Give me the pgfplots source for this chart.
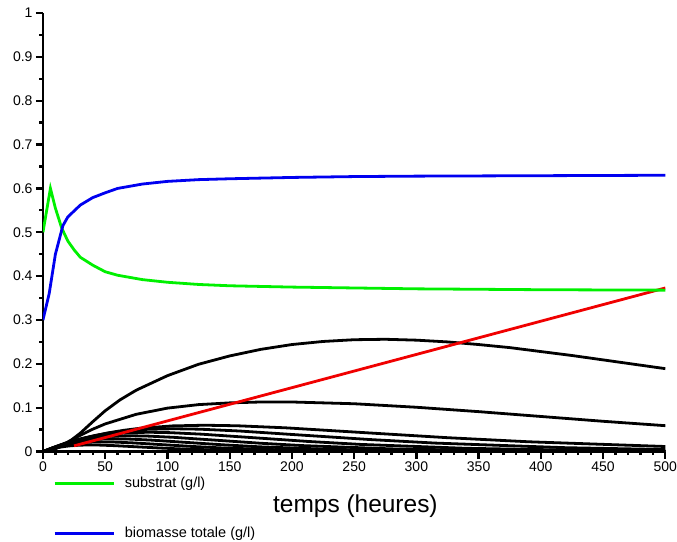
\documentclass[border=0pt]{standalone}
\usepackage{pgfplots}
\pgfplotsset{compat=1.18}
\usepackage{fontspec}
\setmainfont{Liberation Sans}
\definecolor{vert}{RGB}{0,240,0}
\definecolor{bleu}{RGB}{0,0,240}
\definecolor{rouge}{RGB}{240,0,0}
\newcommand{\tfont}{\fontsize{14bp}{16bp}\selectfont}
\begin{document}
\begin{tikzpicture}
\begin{axis}[
  scale only axis, width=623bp, height=439bp,
  xmin=0, xmax=500, ymin=0, ymax=1,
  axis lines=left,
  axis line style={-},
  every outer x axis line/.append style={line width=2.6bp, -},
  every outer y axis line/.append style={line width=2.6bp, -},
  every inner x axis line/.append style={line width=2.6bp, -},
  every inner y axis line/.append style={line width=2.6bp, -},
  tick align=outside,
  xtick={0,50,...,500}, ytick={0,0.1,...,1},
  minor x tick num=4, minor y tick num=1,
  major tick length=7bp, minor tick length=3.5bp,
  tick style={line width=2.3bp, black},
  xticklabel={\tfont\pgfmathprintnumber[assume math mode=true]{\tick}},
  yticklabel={\tfont\pgfmathprintnumber[assume math mode=true,fixed,precision=1]{\tick}},
  xticklabel style={inner xsep=0bp},
  xlabel={temps (heures)},
  xlabel style={font=\fontsize{24.5bp}{28bp}\selectfont, at={(axis description cs:0.502,-0.125)}, anchor=center},
  legend style={draw=none, fill=none, at={(axis description cs:0.016,-0.054)}, anchor=north west,
    font=\fontsize{14.5bp}{16bp}\selectfont, row sep=34bp, inner sep=0pt,
    /tikz/every odd column/.append style={column sep=7bp}},
  legend cell align=left,
  legend image code/.code={\draw[#1, line width=2.8bp] (0bp,0bp) -- (60bp,0bp);},
  every axis plot/.append style={line width=2.8bp},
]
\coordinate (bl) at (rel axis cs:0,0);
\coordinate (tr) at (rel axis cs:1,1);
% black curves (classes)
\addplot[black, forget plot] coordinates {(0,0)(10,0.006)(20,0.02)(30,0.042)(40,0.068)(50,0.093)(62,0.118)(75,0.14)(100,0.173)(125,0.199)(150,0.218)(175,0.233)(200,0.244)(225,0.251)(250,0.255)(275,0.256)(300,0.254)(325,0.25)(350,0.244)(375,0.237)(400,0.228)(425,0.219)(450,0.209)(475,0.199)(500,0.189)};
\addplot[black, forget plot] coordinates {(0,0)(10,0.008)(20,0.022)(30,0.037)(40,0.051)(50,0.063)(75,0.085)(100,0.099)(125,0.107)(150,0.111)(175,0.113)(200,0.113)(250,0.109)(300,0.101)(350,0.091)(400,0.08)(450,0.069)(500,0.059)};
\addplot[black, forget plot] coordinates {(0,0)(6.5,0.0063)(13,0.0128)(26,0.0247)(39,0.0345)(52,0.0424)(65,0.0485)(78,0.0531)(104,0.0585)(130,0.060)(156,0.0588)(195,0.0541)(260,0.0428)(325,0.0316)(390,0.0223)(500,0.0115)};
\addplot[black, forget plot] coordinates {(0,0)(5.25,0.0055)(10.5,0.0111)(21,0.0214)(31.5,0.0299)(42,0.0367)(52.5,0.0421)(63,0.046)(84,0.0507)(105,0.052)(126,0.051)(157.5,0.0469)(210,0.0371)(262.5,0.0274)(315,0.0193)(420,0.0088)(500,0.0046)};
\addplot[black, forget plot] coordinates {(0,0)(4.25,0.0046)(8.5,0.0094)(17,0.0181)(25.5,0.0253)(34,0.0311)(42.5,0.0356)(51,0.0389)(68,0.0429)(85,0.044)(102,0.0431)(127.5,0.0396)(170,0.0314)(212.5,0.0231)(255,0.0163)(340,0.0074)(425,0.0032)(500,0.0014)};
\addplot[black, forget plot] coordinates {(0,0)(3.5,0.0038)(7,0.0077)(14,0.0148)(21,0.0207)(28,0.0254)(35,0.0291)(42,0.0319)(56,0.0351)(70,0.036)(84,0.0353)(105,0.0324)(140,0.0257)(175,0.0189)(210,0.0134)(280,0.0061)(350,0.0026)(420,0.001)(500,0.0003)};
\addplot[black, forget plot] coordinates {(0,0)(2.9,0.003)(5.8,0.0062)(11.6,0.0119)(17.4,0.0167)(23.2,0.0205)(29,0.0235)(34.8,0.0257)(46.4,0.0283)(58,0.029)(69.6,0.0284)(87,0.0261)(116,0.0207)(145,0.0153)(174,0.0108)(232,0.0049)(290,0.0021)(348,0.0008)(464,0.0001)(500,0)};
\addplot[black, forget plot] coordinates {(0,0)(2.4,0.0023)(4.8,0.0047)(9.6,0.009)(14.4,0.0127)(19.2,0.0155)(24,0.0178)(28.8,0.0195)(38.4,0.0215)(48,0.022)(57.6,0.0216)(72,0.0198)(96,0.0157)(120,0.0116)(144,0.0082)(192,0.0037)(240,0.0016)(288,0.0006)(384,0.0001)(500,0)};
\addplot[black, forget plot] coordinates {(0,0)(1.9,0.0016)(3.8,0.0032)(7.6,0.0062)(11.4,0.0086)(15.2,0.0106)(19,0.0121)(22.8,0.0133)(30.4,0.0146)(38,0.015)(45.6,0.0147)(57,0.0135)(76,0.0107)(95,0.0079)(114,0.0056)(152,0.0025)(190,0.0011)(228,0.0004)(304,0.0001)(500,0)};
% red line
\addplot[rouge, forget plot] coordinates {(25,0.013)(500,0.373)};
% substrate
\addplot[vert] coordinates {(0,0.5)(6,0.6)(10,0.555)(15,0.51)(20,0.48)(25,0.46)(30,0.443)(40,0.425)(50,0.41)(60,0.402)(80,0.392)(100,0.386)(125,0.381)(150,0.378)(200,0.375)(250,0.373)(300,0.371)(400,0.369)(500,0.368)};
\addlegendentry{substrat (g/l)}
% total biomass
\addplot[bleu] coordinates {(0,0.30)(5,0.36)(10,0.45)(16,0.515)(20,0.535)(30,0.562)(40,0.579)(50,0.59)(60,0.60)(80,0.61)(100,0.616)(125,0.62)(150,0.622)(200,0.625)(250,0.627)(300,0.628)(400,0.629)(500,0.63)};
\addlegendentry{biomasse totale (g/l)}
\end{axis}
\path (bl) ++(-43bp,-84bp) (tr) ++(11bp,13bp);
\end{tikzpicture}
\end{document}
